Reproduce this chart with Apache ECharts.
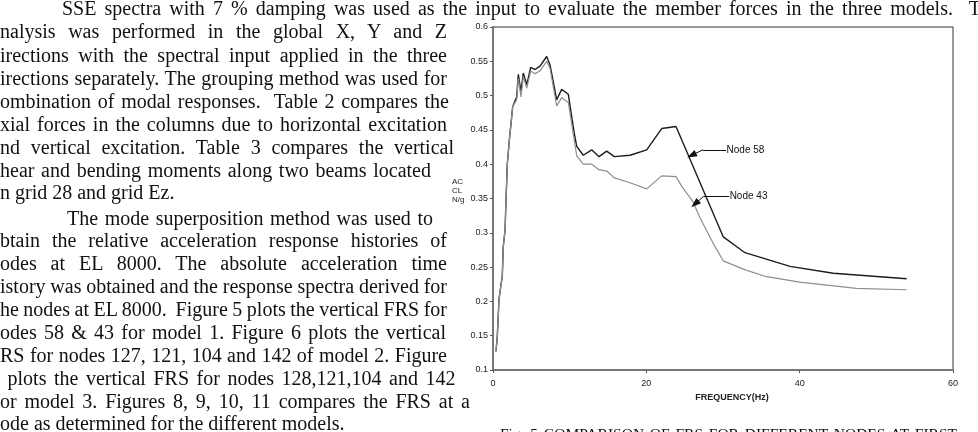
<!DOCTYPE html>
<html><head><meta charset="utf-8">
<script src="https://cdn.jsdelivr.net/npm/echarts@6/dist/echarts.min.js"></script>
<style>
html,body{margin:0;padding:0;background:#fff;overflow:hidden;width:978px;height:432px}
#chart{position:absolute;left:0;top:0;width:978px;height:432px}
.ln{position:absolute;white-space:pre;font-family:"Liberation Serif","Times New Roman",serif;color:#111;line-height:1}
</style></head><body>
<div id="chart"></div>
<div id="txt"></div>
<script>
// ---- data ----
const freq58 = [0.39,0.56,0.78,1.04,1.21,1.34,1.57,1.70,1.87,2.13,2.57,3.09,3.30,3.65,3.95,4.40,4.92,5.48,6.13,7.00,7.43,8.31,8.96,9.82,10.6,10.92,11.78,12.87,13.83,14.83,15.82,17.87,20.05,22.0,23.87,30.04,32.87,38.74,44.39,53.96];
const node58 = [0.127,0.149,0.202,0.224,0.236,0.280,0.304,0.348,0.401,0.435,0.484,0.498,0.531,0.506,0.533,0.516,0.541,0.538,0.543,0.557,0.545,0.494,0.509,0.502,0.445,0.426,0.413,0.421,0.411,0.419,0.411,0.413,0.421,0.452,0.455,0.294,0.271,0.251,0.241,0.233];
const freq43 = [0.39,0.56,0.78,1.04,1.21,1.34,1.57,1.70,1.87,2.13,2.57,3.09,3.30,3.65,3.95,4.40,4.92,5.48,6.13,7.00,7.43,8.31,8.96,9.82,10.6,10.92,11.78,12.87,13.83,14.83,15.82,17.87,20.05,22.0,23.87,24.6,26.1,27.0,28.7,30.04,32.9,35.7,40.0,47.4,53.96];
const node43 = [0.127,0.149,0.202,0.224,0.236,0.280,0.304,0.348,0.401,0.435,0.484,0.494,0.525,0.498,0.528,0.511,0.536,0.532,0.536,0.550,0.540,0.485,0.497,0.490,0.435,0.412,0.400,0.400,0.392,0.390,0.380,0.373,0.364,0.383,0.382,0.368,0.345,0.322,0.285,0.259,0.246,0.236,0.228,0.219,0.217];
const seriesNames = ['Node 58','Node 43'];
const xTicks = {min:0, max:60, interval:20};
const yTicks = {min:0.1, max:0.6, interval:0.05};
// leader annotations: [label end, elbow, arrow tip] in data units
const lead58 = [[30.4,0.421],[27.4,0.421],[25.9,0.413]];
const lead43 = [[30.8,0.353],[27.45,0.353],[26.35,0.342]];

// ---- page text ----
const paraLines = [
 ['SSE spectra with 7 % damping was used as the input to evaluate the member forces in the three models.  T', 62, 15, 981],
 ['nalysis was performed in the global X, Y and Z', 0, 38, 447],
 ['irections with the spectral input applied in the three', 0, 62, 447],
 ['irections separately. The grouping method was used for', 0, 85, 447],
 ['ombination of modal responses.  Table 2 compares the', 0, 108, 449],
 ['xial forces in the columns due to horizontal excitation', 0, 131, 447],
 ['nd vertical excitation. Table 3 compares the vertical', 0, 154, 454],
 ['hear and bending moments along two beams located', 0, 177, 431],
 ['n grid 28 and grid Ez.', 0, 199, null],
 ['The mode superposition method was used to', 67, 225, 433],
 ['btain the relative acceleration response histories of', 0, 247, 447],
 ['odes at EL 8000. The absolute acceleration time', 0, 270, 447],
 ['istory was obtained and the response spectra derived for', 0, 293, 447],
 ['he nodes at EL 8000.  Figure 5 plots the vertical FRS for', 0, 316, 447],
 ['odes 58 & 43 for model 1. Figure 6 plots the vertical', 0, 339, 446],
 ['RS for nodes 127, 121, 104 and 142 of model 2. Figure', 0, 362, 447],
 [' plots the vertical FRS for nodes 128,121,104 and 142', 0, 385, 453],
 ['or model 3. Figures 8, 9, 10, 11 compares the FRS at a', 0, 408, 470],
 ['ode as determined for the different models.', 0, 430, null]
];
const caption = ['Fig. 5 COMPARISON OF FRS FOR DIFFERENT NODES AT FIRST', 500, 439, 957];

function placeLine(t, x, base, end, size){
  const d = document.createElement('div');
  d.className = 'ln';
  d.style.fontSize = size + 'px';
  d.textContent = t;
  d.style.left = x + 'px';
  d.style.top = (base - 0.84*size) + 'px';
  document.getElementById('txt').appendChild(d);
  if (end !== null){
    const w = d.getBoundingClientRect().width;
    const n = (t.trim().match(/ /g)||[]).length;
    if (n>0) d.style.wordSpacing = ((end - x - w)/n) + 'px';
  }
}
paraLines.forEach(l => placeLine(l[0], l[1], l[2], l[3], 20));
placeLine(caption[0], caption[1], caption[2], caption[3], 15.5);

// ---- chart ----
const chart = echarts.init(document.getElementById('chart'), null, {renderer:'canvas'});
const zip = (a,b) => a.map((v,i)=>[v,b[i]]);
const axisFont = {fontFamily:'Liberation Sans, Arial, sans-serif', fontSize:9, color:'#222'};
function leader(pts){
  return {
    silent:true, symbol:['none','none'],
    lineStyle:{color:'#111', width:1, type:'solid'},
    label:{show:false},
    emphasis:{disabled:true},
    data:[
      [{coord:pts[0]},{coord:pts[1]}],
      [{coord:pts[1], symbol:'none'},{coord:pts[2], symbol:'triangle', symbolSize:[7,10]}]
    ]
  };
}
function labelPt(pts, name){
  return {
    silent:true,
    data:[{coord:pts[0], symbol:'circle', symbolSize:1, itemStyle:{color:'rgba(0,0,0,0)'},
      label:{show:true, position:'right', distance:0, formatter:name, color:'#111',
        fontFamily:'Liberation Sans, Arial, sans-serif', fontSize:10}}]
  };
}
chart.setOption({
  animation:false,
  backgroundColor:'transparent',
  grid:{left:493, right:25, top:27, bottom:62, show:true, borderColor:'#333', borderWidth:1, backgroundColor:'transparent', outerBoundsMode:'none'},
  xAxis:{type:'value', min:xTicks.min, max:xTicks.max, interval:xTicks.interval,
    axisLine:{show:true, lineStyle:{color:'#777', width:2}},
    axisTick:{show:true, length:3, lineStyle:{color:'#555'}},
    axisLabel:Object.assign({margin:9}, axisFont),
    splitLine:{show:false}},
  yAxis:{type:'value', min:yTicks.min, max:yTicks.max, interval:yTicks.interval,
    axisLine:{show:true, lineStyle:{color:'#777', width:2}},
    axisTick:{show:true, length:3, lineStyle:{color:'#555'}},
    axisLabel:Object.assign({margin:5, formatter:v=>String(+v.toFixed(2))}, axisFont),
    splitLine:{show:false}},
  graphic:[
    {type:'text', left:452, top:177, style:{text:'AC\nCL\nN/g', fontFamily:'Liberation Sans, Arial, sans-serif', fontSize:8, lineHeight:9, fill:'#222'}},
    {type:'text', x:732, y:398, style:{text:'FREQUENCY(Hz)', fontFamily:'Liberation Sans, Arial, sans-serif', fontSize:9, fontWeight:'bold', fill:'#222', align:'center', verticalAlign:'middle'}}
  ],
  series:[
    {name:seriesNames[0], type:'line', data:zip(freq58,node58), symbol:'none', smooth:false,
      lineStyle:{color:'#1c1c1c', width:1.4}, z:2,
      markLine:leader(lead58), markPoint:labelPt(lead58, seriesNames[0])},
    {name:seriesNames[1], type:'line', data:zip(freq43,node43), symbol:'none', smooth:false,
      lineStyle:{color:'#8e8e8e', width:1.2}, z:3,
      markLine:leader(lead43), markPoint:labelPt(lead43, seriesNames[1])}
  ]
});
</script>
</body></html>
